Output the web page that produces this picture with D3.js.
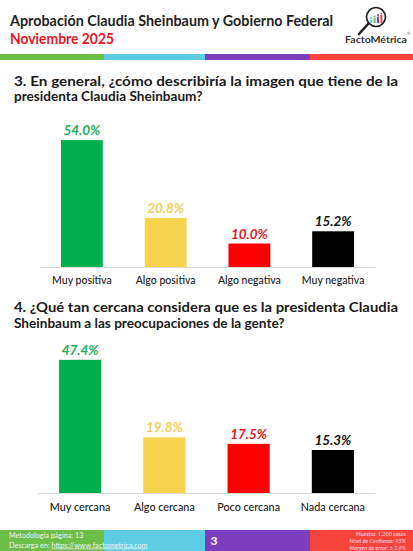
<!DOCTYPE html>
<html>
<head>
<meta charset="utf-8">
<script src="https://cdn.jsdelivr.net/npm/d3@7/dist/d3.min.js"></script>
<style>
  html, body { margin: 0; padding: 0; background: #fff; }
  svg { display: block; font-family: Lato, "Open Sans", sans-serif; }
</style>
</head>
<body>
<div id="chart"></div>
<script>
// ---- data ---------------------------------------------------------------
const q3Categories = ['Muy positiva', 'Algo positiva', 'Algo negativa', 'Muy negativa'];
const q3Values     = [54.0, 20.8, 10.0, 15.2];

const q4Categories = ['Muy cercana', 'Algo cercana', 'Poco cercana', 'Nada cercana'];
const q4Values     = [47.4, 19.8, 17.5, 15.3];

const barColors   = ['#00B050', '#F7D24C', '#FF0000', '#000000'];
const labelColors = ['#1DAF5C', '#F2CF57', '#E5141E', '#111111'];
const stripeColors = ['#6BBE48', '#5DCCE3', '#7A3EBE', '#F6443A'];

const W = 413, H = 551;

const svg = d3.select('#chart').append('svg')
  .attr('width', W).attr('height', H);

// -- header ---------------------------------------------------------------
svg.append('text')
  .attr('x', 10).attr('y', 26)
  .attr('font-size', 15).attr('font-weight', 700).attr('fill', '#1f1f1f')
  .attr('textLength', 323).attr('lengthAdjust', 'spacingAndGlyphs')
  .text('Aprobación Claudia Sheinbaum y Gobierno Federal');

svg.append('text')
  .attr('x', 10).attr('y', 44)
  .attr('font-size', 15).attr('font-weight', 700).attr('fill', '#E8161F')
  .attr('textLength', 104).attr('lengthAdjust', 'spacingAndGlyphs')
  .text('Noviembre 2025');

// logo: magnifier with little bars
const logo = svg.append('g');
logo.append('line')
  .attr('x1', 368).attr('y1', 24).attr('x2', 359).attr('y2', 34)
  .attr('stroke', '#222').attr('stroke-width', 2.6).attr('stroke-linecap', 'round');
logo.append('circle')
  .attr('cx', 376).attr('cy', 17).attr('r', 9.5)
  .attr('fill', '#fff').attr('stroke', '#222').attr('stroke-width', 1.7);
const logoBars = [3.5, 5, 6.5, 8];
logoBars.forEach((h, i) => {
  const bx = 370.2 + i * 3.4;
  logo.append('rect')
    .attr('x', bx).attr('y', 23 - h).attr('width', 2).attr('height', h)
    .attr('fill', stripeColors[[1, 0, 2, 3][i]]);
  logo.append('circle')
    .attr('cx', bx + 1).attr('cy', 23 - h - 1.6).attr('r', 1)
    .attr('fill', stripeColors[[1, 0, 2, 3][i]]);
});
logo.append('text')
  .attr('x', 345).attr('y', 43)
  .attr('font-size', 9.5).attr('font-weight', 700).attr('fill', '#333')
  .attr('textLength', 62).attr('lengthAdjust', 'spacingAndGlyphs')
  .text('FactoMétrica');
logo.append('text')
  .attr('x', 407).attr('y', 35)
  .attr('font-size', 4).attr('fill', '#333')
  .text('®');

// coloured stripes (top and footer)
const stripeEdges = [0, 104, 205, 310, W];
svg.append('g').selectAll('rect')
  .data(stripeColors)
  .join('rect')
  .attr('x', (d, i) => stripeEdges[i]).attr('y', 54)
  .attr('width', (d, i) => stripeEdges[i + 1] - stripeEdges[i]).attr('height', 6)
  .attr('fill', d => d);

svg.append('g').selectAll('rect')
  .data(stripeColors)
  .join('rect')
  .attr('x', (d, i) => stripeEdges[i]).attr('y', 530)
  .attr('width', (d, i) => stripeEdges[i + 1] - stripeEdges[i]).attr('height', 21)
  .attr('fill', d => d);

// footer texts
svg.append('text')
  .attr('x', 9).attr('y', 538)
  .attr('font-size', 7.2).attr('fill', '#f4f4f4')
  .text('Metodología página: 13');
const dl = svg.append('text')
  .attr('x', 9).attr('y', 547.5)
  .attr('font-size', 7.2).attr('fill', '#f4f4f4');
dl.append('tspan').text('Descarga en: ');
dl.append('tspan').attr('text-decoration', 'underline').text('https://www.factometrica.com');

svg.append('text')
  .attr('x', 214).attr('y', 545).attr('text-anchor', 'middle')
  .attr('font-size', 12).attr('font-weight', 700).attr('fill', '#fff')
  .text('3');

const notes = ['Muestra: 1,200 casos', 'Nivel de Confianza: 95%', 'Margen de error: ± 2.9%'];
svg.append('g').selectAll('text')
  .data(notes)
  .join('text')
  .attr('x', 406).attr('y', (d, i) => 535.5 + i * 7)
  .attr('text-anchor', 'end')
  .attr('font-size', 5.6).attr('font-style', 'italic').attr('fill', '#fde')
  .text(d => d);

// -- question + bar chart -------------------------------------------------
function drawQuestion(lines, lineYs, justify) {
  lines.forEach((t, i) => {
    const el = svg.append('text')
      .attr('x', 14).attr('y', lineYs[i])
      .attr('font-size', 13.6).attr('font-weight', 700).attr('fill', '#1a1a1a')
      .text(t);
    if (justify[i]) el.attr('textLength', justify[i]).attr('lengthAdjust', 'spacingAndGlyphs');
  });
}

function drawBars(categories, values, opts) {
  const g = svg.append('g');

  const x = d3.scaleBand()
    .domain(categories)
    .range([opts.x0, opts.x1])
    .paddingInner(0.5)
    .paddingOuter(0.25);

  const y = d3.scaleLinear()
    .domain([0, opts.yMax])
    .range([opts.base, opts.base - opts.h]);

  // baseline
  g.append('line')
    .attr('x1', opts.x0).attr('x2', opts.x1)
    .attr('y1', opts.base + 0.5).attr('y2', opts.base + 0.5)
    .attr('stroke', '#d9d9d9').attr('stroke-width', 1);

  g.selectAll('rect.bar')
    .data(values)
    .join('rect')
    .attr('class', 'bar')
    .attr('x', (d, i) => x(categories[i]))
    .attr('y', d => y(d))
    .attr('width', x.bandwidth())
    .attr('height', d => y(0) - y(d))
    .attr('fill', (d, i) => barColors[i]);

  g.selectAll('text.val')
    .data(values)
    .join('text')
    .attr('class', 'val')
    .attr('x', (d, i) => x(categories[i]) + x.bandwidth() / 2)
    .attr('y', d => y(d) - 5)
    .attr('text-anchor', 'middle')
    .attr('font-size', 13.5).attr('font-weight', 700).attr('font-style', 'italic')
    .attr('fill', (d, i) => labelColors[i])
    .text(d => d.toFixed(1) + '%');

  g.selectAll('text.cat')
    .data(categories)
    .join('text')
    .attr('class', 'cat')
    .attr('x', d => x(d) + x.bandwidth() / 2)
    .attr('y', opts.base + opts.catDy)
    .attr('text-anchor', 'middle')
    .attr('font-size', opts.catSize).attr('font-weight', 500).attr('fill', '#1a1a1a')
    .text(d => d);
}

drawQuestion(
  ['3. En general, ¿cómo describiría la imagen que tiene de la', 'presidenta Claudia Sheinbaum?'],
  [86, 101], [384, 0]);
drawBars(q3Categories, q3Values, {
  x0: 40, x1: 375, base: 267, yMax: 60, h: 141, catDy: 17, catSize: 10.5
});

drawQuestion(
  ['4. ¿Qué tan cercana considera que es la presidenta Claudia', 'Sheinbaum a las preocupaciones de la gente?'],
  [312, 328], [384, 0]);
drawBars(q4Categories, q4Values, {
  x0: 38, x1: 375, base: 493, yMax: 50, h: 140.5, catDy: 18, catSize: 10.8
});
</script>
</body>
</html>
